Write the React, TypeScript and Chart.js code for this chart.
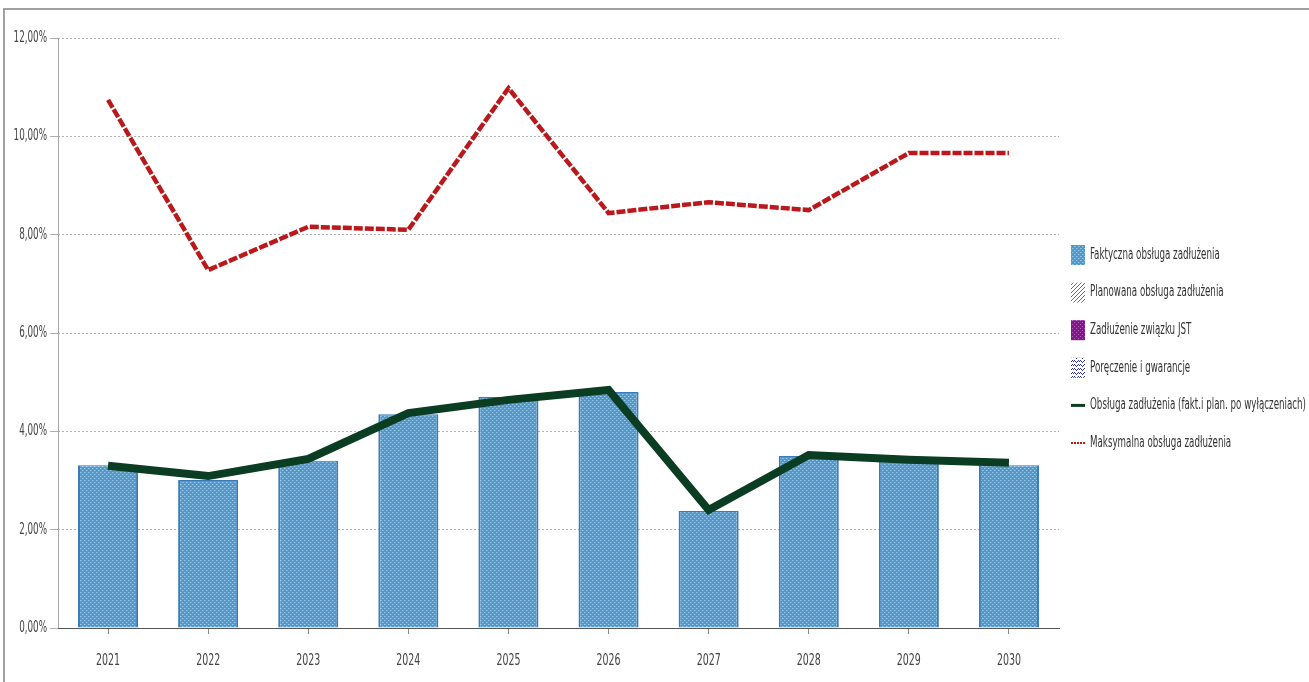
import React, { useEffect, useRef } from "react";
import { Chart, registerables } from "chart.js";

Chart.register(...registerables);

const years = ["2021", "2022", "2023", "2024", "2025", "2026", "2027", "2028", "2029", "2030"];
const faktyczna = [3.31, 3.01, 3.40, 4.35, 4.70, 4.80, 2.38, 3.50, 3.42, 3.31];
const obsluga = [3.30, 3.09, 3.44, 4.37, 4.64, 4.84, 2.40, 3.52, 3.42, 3.36];
const maksymalna = [10.74, 7.28, 8.16, 8.10, 10.98, 8.44, 8.66, 8.50, 9.66, 9.66];
const yTicks = [0, 2, 4, 6, 8, 10, 12];
const legendLabels = [
  "Faktyczna obsługa zadłużenia",
  "Planowana obsługa zadłużenia",
  "Zadłużenie związku JST",
  "Poręczenie i gwarancje",
  "Obsługa zadłużenia (fakt.i plan. po wyłączeniach)",
  "Maksymalna obsługa zadłużenia",
];

const FONT = "'DejaVu Sans Condensed', 'Liberation Sans', sans-serif";

function makePattern(kind: string): CanvasPattern | string {
  const c = document.createElement("canvas");
  const ctx = c.getContext("2d")!;
  if (kind === "blue") {
    c.width = 4; c.height = 4;
    ctx.fillStyle = "#5597cb";
    ctx.fillRect(0, 0, 4, 4);
    ctx.fillStyle = "#98cbea";
    ctx.fillRect(0, 0, 1, 1);
    ctx.fillRect(2, 2, 1, 1);
    ctx.fillStyle = "#73b0dc";
    ctx.fillRect(1, 0, 1, 1);
    ctx.fillRect(3, 2, 1, 1);
  } else if (kind === "green") {
    c.width = 4; c.height = 4;
    ctx.fillStyle = "#ffffff";
    ctx.fillRect(0, 0, 4, 4);
    ctx.fillStyle = "#2f9a3a";
    for (let i = 0; i < 4; i++) ctx.fillRect(3 - i, i, 1, 1);
  } else if (kind === "purple") {
    c.width = 4; c.height = 4;
    ctx.fillStyle = "#7d1a84";
    ctx.fillRect(0, 0, 4, 4);
    ctx.fillStyle = "#b55bbd";
    ctx.fillRect(0, 0, 1, 1);
    ctx.fillRect(2, 2, 1, 1);
  } else {
    c.width = 6; c.height = 4;
    ctx.fillStyle = "#ffffff";
    ctx.fillRect(0, 0, 6, 4);
    ctx.fillStyle = "#2f2f9a";
    ctx.fillRect(0, 0, 1, 1); ctx.fillRect(1, 1, 1, 1); ctx.fillRect(2, 2, 1, 1);
    ctx.fillRect(3, 1, 1, 1); ctx.fillRect(4, 0, 1, 1); ctx.fillRect(5, 1, 1, 1);
  }
  return ctx.createPattern(c, "repeat") || "#5597cb";
}

function drawNarrow(ctx: CanvasRenderingContext2D, text: string, x: number, y: number, sx: number, align: "left" | "right" | "center") {
  ctx.save();
  ctx.translate(x, y);
  ctx.scale(sx, 1);
  ctx.textAlign = align;
  ctx.fillText(text, 0, 0);
  ctx.restore();
}

export default function App() {
  const ref = useRef<HTMLCanvasElement>(null);

  useEffect(() => {
    document.body.style.margin = "0";
    const blue = makePattern("blue");
    const green = makePattern("green");
    const purple = makePattern("purple");
    const zig = makePattern("zig");

    const framePlugin = {
      id: "frame",
      beforeDraw(chart: any) {
        const ctx = chart.ctx;
        ctx.save();
        ctx.fillStyle = "#ffffff";
        ctx.fillRect(0, 0, chart.width, chart.height);
        ctx.strokeStyle = "#a0a0a0";
        ctx.lineWidth = 2;
        ctx.beginPath();
        ctx.moveTo(4, chart.height);
        ctx.lineTo(4, 9);
        ctx.lineTo(chart.width, 9);
        ctx.stroke();
        ctx.restore();
      },
      beforeDatasetsDraw(chart: any) {
        const ctx = chart.ctx;
        const a = chart.chartArea;
        ctx.save();
        ctx.strokeStyle = "#a8a8a8";
        ctx.lineWidth = 1;
        ctx.beginPath();
        ctx.moveTo(Math.round(a.left) + 0.5, a.top);
        ctx.lineTo(Math.round(a.left) + 0.5, a.bottom);
        ctx.stroke();
        ctx.restore();
      },
    };

    const labelsPlugin = {
      id: "narrowLabels",
      afterDraw(chart: any) {
        const ctx: CanvasRenderingContext2D = chart.ctx;
        const xs = chart.scales.x;
        const ys = chart.scales.y;
        ctx.save();
        ctx.font = `15px ${FONT}`;
        ctx.textBaseline = "middle";
        ctx.fillStyle = "#444";
        yTicks.forEach((v) => {
          const y = ys.getPixelForValue(v);
          drawNarrow(ctx, v.toFixed(2).replace(".", ",") + "%", 47, y, 0.65, "right");
        });
        years.forEach((label, i) => {
          const x = xs.getPixelForValue(i);
          drawNarrow(ctx, label, x, 661, 0.7, "center");
        });
        ctx.restore();
      },
    };

    const legendPlugin = {
      id: "customLegend",
      afterDraw(chart: any) {
        const ctx: CanvasRenderingContext2D = chart.ctx;
        const area = chart.chartArea;
        const x0 = area.right + 12;
        const y0 = 255;
        const step = 37.6;
        ctx.save();
        ctx.font = `15px ${FONT}`;
        ctx.textBaseline = "middle";
        const longest = ctx.measureText(legendLabels[4]).width;
        const sx = 216 / longest;
        const fills = [blue, green, purple, zig];
        legendLabels.forEach((label, i) => {
          const y = y0 + i * step;
          if (i < 4) {
            ctx.fillStyle = fills[i] as any;
            ctx.fillRect(x0, y - 10, 14, 20);
          } else if (i === 4) {
            ctx.strokeStyle = "#0b3d22";
            ctx.lineWidth = 3;
            ctx.beginPath();
            ctx.moveTo(x0, y);
            ctx.lineTo(x0 + 14, y);
            ctx.stroke();
          } else {
            ctx.strokeStyle = "#c01818";
            ctx.lineWidth = 2;
            ctx.setLineDash([2, 1]);
            ctx.beginPath();
            ctx.moveTo(x0, y);
            ctx.lineTo(x0 + 14, y);
            ctx.stroke();
            ctx.setLineDash([]);
          }
          ctx.fillStyle = "#333";
          drawNarrow(ctx, label, x0 + 19, y, sx, "left");
        });
        ctx.restore();
      },
    };

    const chart = new Chart(ref.current!, {
      type: "bar",
      data: {
        labels: years,
        datasets: [
          {
            type: "line",
            label: legendLabels[5],
            data: maksymalna,
            borderColor: "#bb181c",
            borderWidth: 4.5,
            borderDash: [9, 2],
            pointRadius: 0,
            tension: 0,
            fill: false,
            order: 0,
          } as any,
          {
            type: "line",
            label: legendLabels[4],
            data: obsluga,
            borderColor: "#0b3d22",
            borderWidth: 8,
            pointRadius: 0,
            tension: 0,
            fill: false,
            order: 1,
            borderCapStyle: "butt",
            borderJoinStyle: "miter",
          } as any,
          {
            type: "bar",
            label: legendLabels[0],
            data: faktyczna,
            backgroundColor: blue as any,
            borderColor: "#3a7ab8",
            borderWidth: { left: 2, right: 2, top: 1, bottom: 0 },
            categoryPercentage: 1,
            barPercentage: 0.6,
            order: 2,
          } as any,
        ],
      },
      options: {
        animation: false,
        responsive: false,
        maintainAspectRatio: false,
        layout: { padding: { left: 0, right: 250, top: 38, bottom: 0 } },
        plugins: { legend: { display: false }, tooltip: { enabled: false } },
        scales: {
          x: {
            grid: {
              display: true,
              drawOnChartArea: false,
              offset: false,
              tickLength: 6,
              color: "#888",
            },
            border: { color: "#555", width: 1 },
            ticks: { display: false },
            afterFit(scale: any) {
              scale.height = 54;
            },
          },
          y: {
            min: 0,
            max: 12,
            afterBuildTicks(scale: any) {
              scale.ticks = yTicks.map((v) => ({ value: v }));
            },
            grid: {
              color: "#b0b0b0",
              tickLength: 8,
            } as any,
            border: { display: false, dash: [2, 2] } as any,
            ticks: { display: false },
            afterFit(scale: any) {
              scale.width = 58;
            },
          },
        },
      },
      plugins: [framePlugin, labelsPlugin, legendPlugin],
    });
    return () => chart.destroy();
  }, []);

  return (
    <div style={{ width: 1309, height: 682 }}>
      <canvas ref={ref} width={1309} height={682} style={{ display: "block" }} />
    </div>
  );
}
